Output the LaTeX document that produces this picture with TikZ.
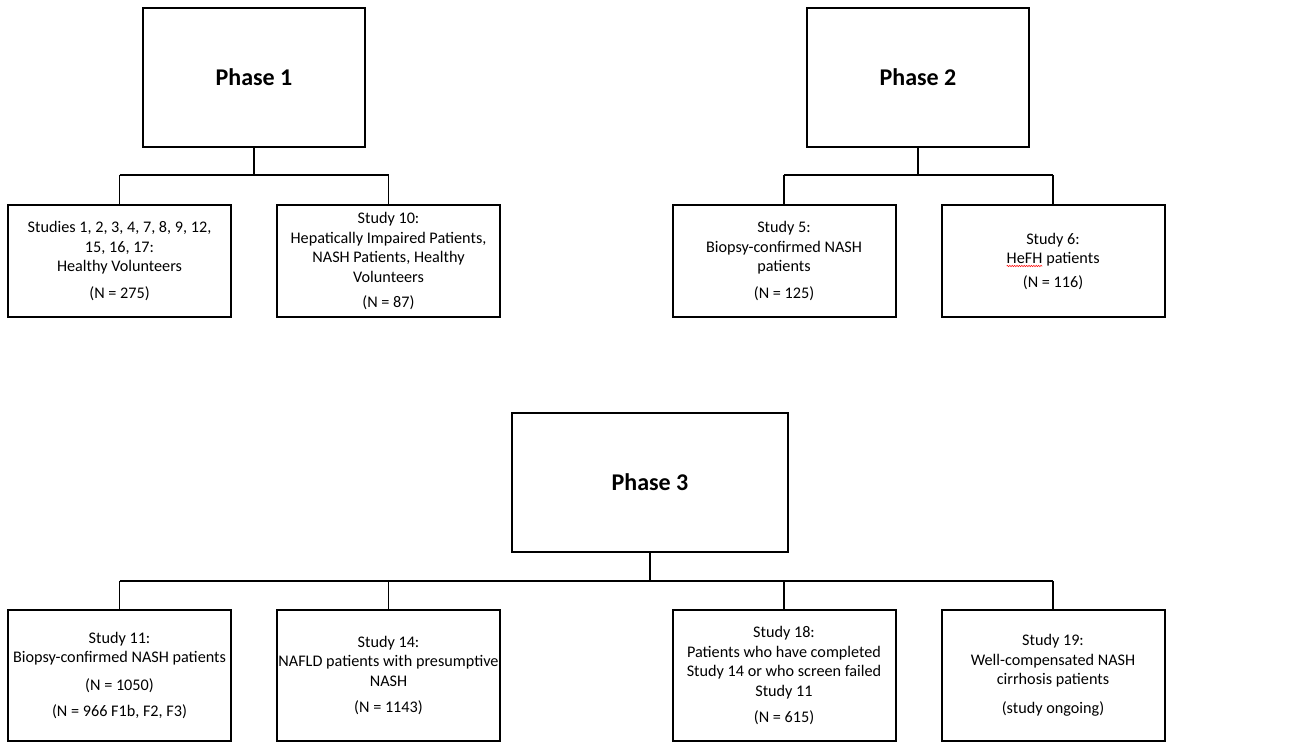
\documentclass[tikz,border=0pt]{standalone}
\usepackage{fontspec}
\setmainfont{Carlito}
\usetikzlibrary{decorations.pathmorphing}
\newcommand\redwave[1]{\tikz[baseline=(hefhword.base)]{\node[draw=none, line width=0.4pt, minimum width=0pt, minimum height=0pt, inner sep=0pt, outer sep=0pt, align=left] (hefhword) {#1};
  \draw[red, line width=0.5pt, decorate, decoration={snake, amplitude=0.7pt, segment length=2.4pt}] ([yshift=-2.5pt]hefhword.base west) -- ([yshift=-2.5pt]hefhword.base east);}}
\begin{document}
\begin{tikzpicture}[x=1pt,y=-1pt,
  phasebox/.style={draw, line width=2.5pt, minimum width=222pt, minimum height=139pt, inner sep=0pt, font=\fontsize{24}{28}\selectfont\bfseries},
  studybox/.style={draw, line width=2pt, minimum width=223pt, inner sep=0pt, align=center, font=\fontsize{16.2}{19.5}\selectfont},
  toprow/.style={studybox, minimum height=112pt},
  botrow/.style={studybox, minimum height=131pt},
  stem/.style={line width=2.5pt},
  bar/.style={line width=2pt},
  drop/.style={line width=1.3pt}]
\useasboundingbox (0,0) rectangle (1296,746);

% Phase boxes
\node[phasebox] (p1) at (254,77.5) {Phase 1};
\node[phasebox] (p2) at (918,77.5) {Phase 2};
\node[phasebox, minimum width=276pt] (p3) at (650,482.5) {Phase 3};

% Top row studies
\node[toprow] (a) at (119.5,261) {Studies 1, 2, 3, 4, 7, 8, 9, 12,\\15, 16, 17:\\Healthy Volunteers\\[7pt](N = 275)};
\node[toprow] (b) at (388.5,261) {Study 10:\\Hepatically Impaired Patients,\\NASH Patients, Healthy\\Volunteers\\[6pt](N = 87)};
\node[toprow] (c) at (784,261) {Study 5:\\Biopsy-confirmed NASH\\patients\\[7pt](N = 125)};
\node[toprow] (d) at (1053,261) {Study 6:\\\redwave{HeFH} patients\\[4pt](N = 116)};

% Bottom row studies
\node[botrow] (e) at (119.5,675.5) {Study 11:\\Biopsy-confirmed NASH patients\\[8pt](N = 1050)\\[7pt](N = 966 F1b, F2, F3)};
\node[botrow] (f) at (388.5,675.5) {Study 14:\\NAFLD patients with presumptive\\NASH\\[7pt](N = 1143)};
\node[botrow] (g) at (784,675.5) {Study 18:\\Patients who have completed\\Study 14 or who screen failed\\Study 11\\[7pt](N = 615)};
\node[botrow] (h) at (1053,675.5) {Study 19:\\Well-compensated NASH\\cirrhosis patients\\[9pt](study ongoing)};

% Junctions
\coordinate (j1) at (254,175);
\coordinate (j2) at (918,175);
\coordinate (j3) at (650,581);

% Phase 1 connectors
\draw[stem] (p1.south) -- (j1);
\draw[bar] (a.north |- j1) -- (b.north |- j1);
\draw[drop] (a.north) -- (a.north |- j1);
\draw[drop] (b.north) -- (b.north |- j1);

% Phase 2 connectors
\draw[stem] (p2.south) -- (j2);
\draw[bar] (c.north |- j2) -- (d.north |- j2);
\draw[drop] (c.north) -- (c.north |- j2);
\draw[drop] (d.north) -- (d.north |- j2);

% Phase 3 connectors
\draw[stem] (p3.south) -- (j3);
\draw[bar] (e.north |- j3) -- (h.north |- j3);
\draw[drop] (e.north) -- (e.north |- j3);
\draw[drop] (f.north) -- (f.north |- j3);
\draw[drop] (g.north) -- (g.north |- j3);
\draw[drop] (h.north) -- (h.north |- j3);
\end{tikzpicture}
\end{document}
